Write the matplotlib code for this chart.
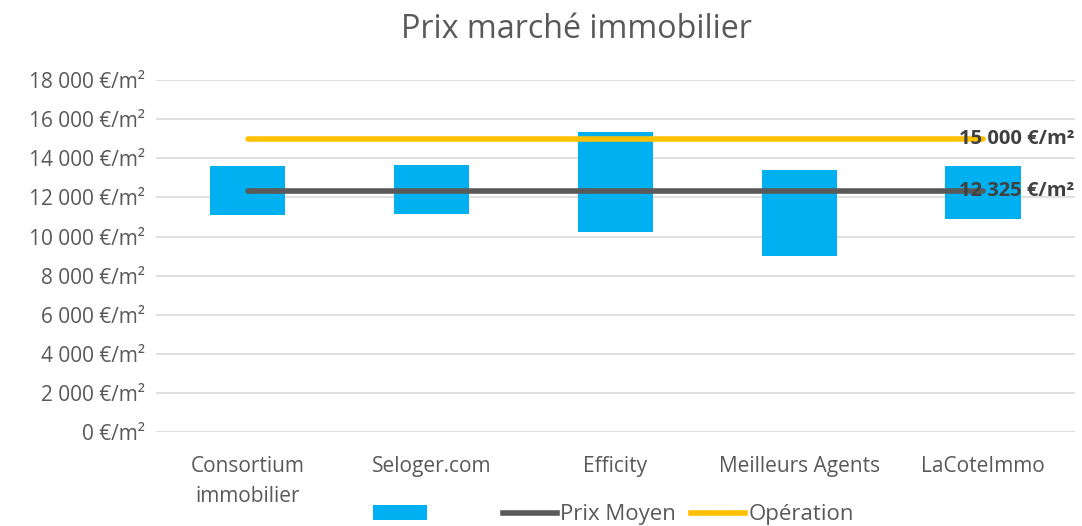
import matplotlib.pyplot as plt
from matplotlib.ticker import FuncFormatter, MultipleLocator
from matplotlib.patches import Patch
from matplotlib.lines import Line2D

# Données
categories = ["Consortium\nimmobilier", "Seloger.com", "Efficity", "Meilleurs Agents", "LaCoteImmo"]
prix_bas = [11090, 11170, 10250, 9020, 10880]
prix_haut = [13620, 13660, 15360, 13400, 13610]
prix_moyen = [12325] * 5
operation = [15000] * 5

BLEU = "#00B0F0"
GRIS = "#595959"
JAUNE = "#FFC000"
TEXTE = "#595959"

plt.rcParams["font.family"] = ["Open Sans", "DejaVu Sans"]


def fmt_prix(v, pos=None):
    return f"{v:,.0f}".replace(",", " ") + " €/m²"


fig = plt.figure(figsize=(10.82, 5.26), dpi=100)
ax = fig.add_axes([0.144, 0.178, 0.8495, 0.67])

x = list(range(len(categories)))
hauteurs = [h - b for h, b in zip(prix_haut, prix_bas)]
ax.bar(x, hauteurs, bottom=prix_bas, width=0.41, color=BLEU, zorder=2)

ax.plot(x, prix_moyen, color=GRIS, lw=4, solid_capstyle="round", zorder=3)
ax.plot(x, operation, color=JAUNE, lw=4, solid_capstyle="round", zorder=3)

# Étiquettes de données sur le dernier point
for serie in (operation, prix_moyen):
    ax.annotate(fmt_prix(serie[-1]), (x[-1], serie[-1]), xytext=(-17.5, 0),
                textcoords="offset points", va="center", ha="left",
                fontsize=14.5, fontweight="bold", color="#404040", zorder=4,
                annotation_clip=False)

ax.set_xlim(-0.5, len(categories) - 0.5)
ax.set_ylim(0, 18000)
ax.yaxis.set_major_locator(MultipleLocator(2000))
ax.yaxis.set_major_formatter(FuncFormatter(fmt_prix))
ax.set_xticks(x)
ax.set_xticklabels(categories, fontsize=15, color=TEXTE, va="top", linespacing=1.55)
ax.tick_params(axis="y", labelsize=15, labelcolor=TEXTE, length=0, pad=8)
ax.tick_params(axis="x", length=0, pad=17)
ax.grid(axis="y", color="#D9D9D9", lw=1.2, zorder=0)
ax.set_axisbelow(True)
for s in ax.spines.values():
    s.set_visible(False)

fig.text(0.533, 0.943, "Prix marché immobilier", ha="center", va="center",
         fontsize=23.2, color=TEXTE)

poignees = [
    Patch(facecolor=BLEU, label=" " * 10),
    Line2D([], [], color=GRIS, lw=4, label="Prix Moyen"),
    Line2D([], [], color=JAUNE, lw=4, label="Opération"),
]
leg = fig.legend(handles=poignees, loc="center", bbox_to_anchor=(0.567, 0.021),
                 ncol=3, frameon=False, fontsize=16, handlelength=2.43,
                 handletextpad=0.15, columnspacing=0.68)
for t in leg.get_texts():
    t.set_color(TEXTE)

fig.savefig("out.png", dpi=100)
